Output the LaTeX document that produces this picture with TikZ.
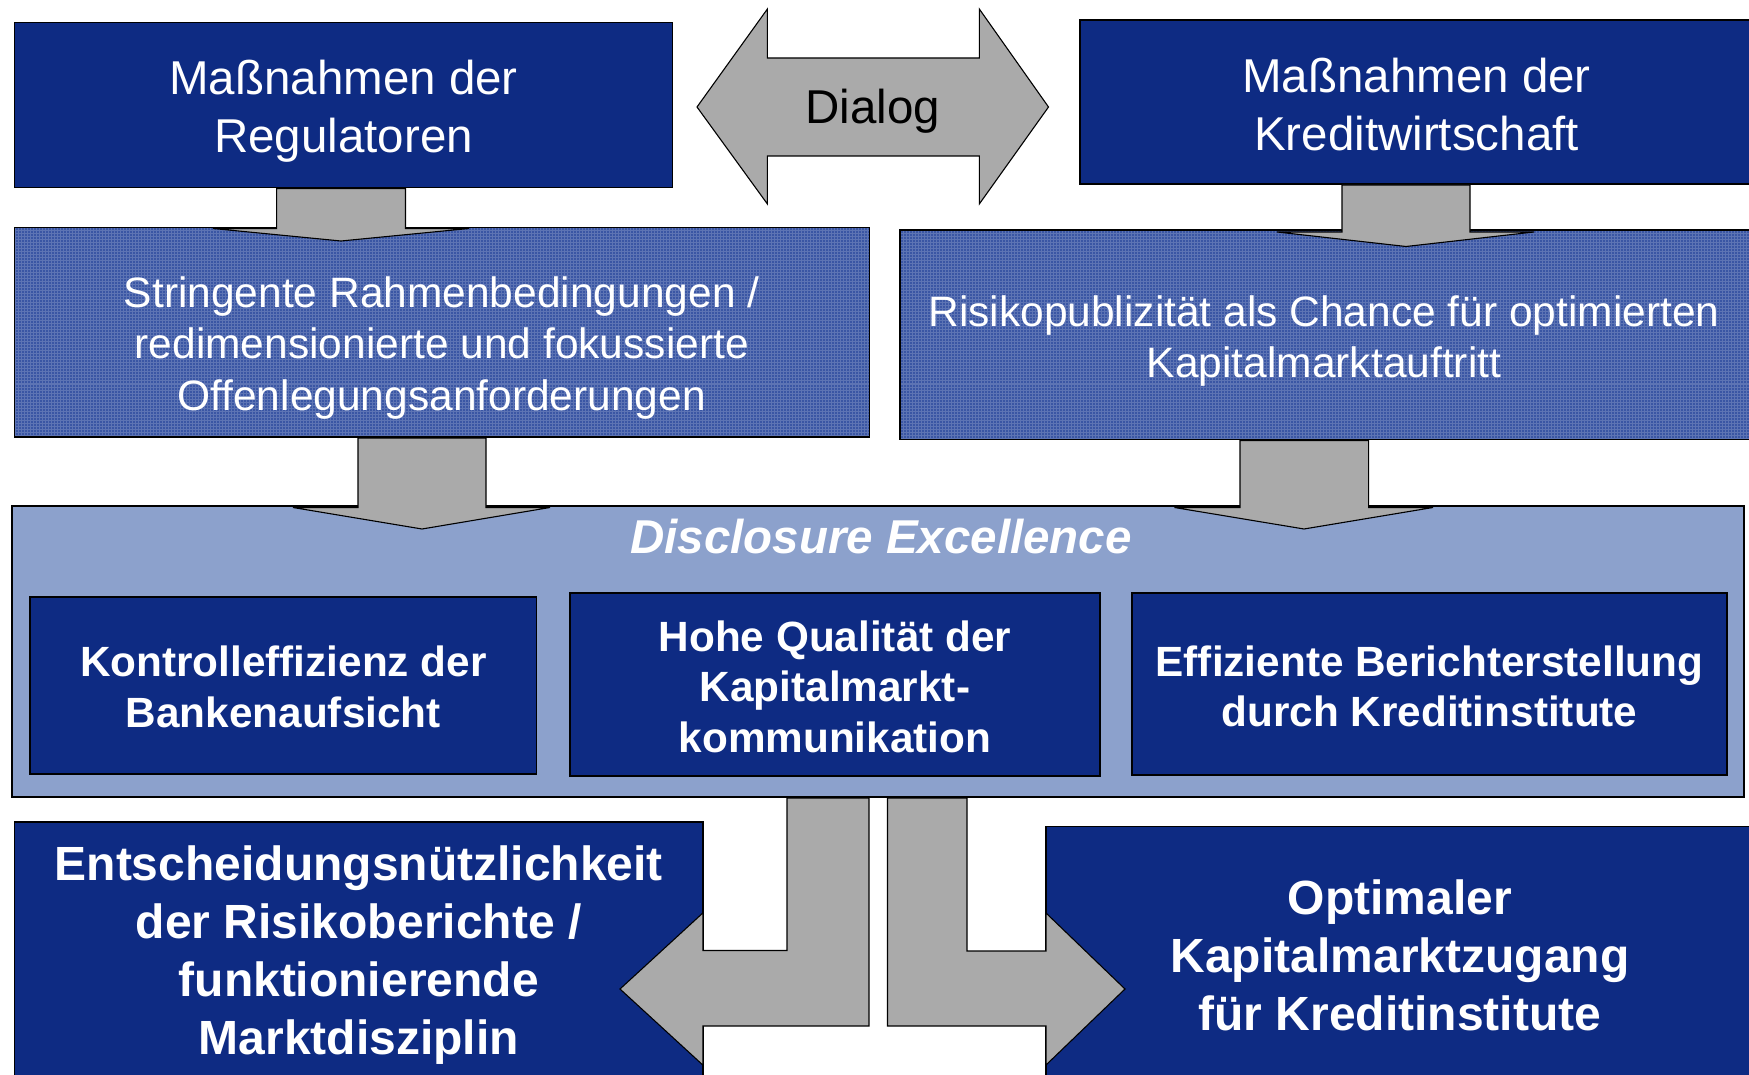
\documentclass[tikz,border=0pt]{standalone}
\usepackage{fontspec}
\setmainfont{Liberation Sans}
\definecolor{navy}{RGB}{14,43,131}
\definecolor{midblue}{RGB}{58,86,164}
\definecolor{paleblue}{RGB}{140,161,204}
\definecolor{arrowgray}{RGB}{170,170,170}
\tikzset{
  box/.style={draw=black, line width=1.3pt, fill=navy, inner sep=0pt, outer sep=0pt,
    anchor=north west},
  texbox/.style={box, fill=midblue},
  panel/.style={box, fill=paleblue},
  blockarrow/.style={draw=black, line width=1.1pt, fill=arrowgray, line join=miter},
  headfont/.style={font=\fontsize{47.5}{58}\selectfont},
  midfont/.style={font=\fontsize{42.5}{51.3}\selectfont},
  innerfont/.style={font=\fontsize{42.3}{50.5}\selectfont\bfseries},
  bigfont/.style={font=\fontsize{48}{58}\selectfont\bfseries},
  label/.style={text=white, align=center, inner sep=0pt},
  gridtex/.style={draw=white, opacity=0.18, line width=1pt}
}
\begin{document}
\begin{tikzpicture}[x=1pt,y=-1pt]
\useasboundingbox (0,0) rectangle (1749,1075);
\fill[white] (0,0) rectangle (1749,1075);

% top row
\node[box, minimum width=658pt, minimum height=165pt] (A) at (14.5,22.5) {};
\node[box, minimum width=673pt, minimum height=164pt] (B) at (1080,20) {};
\node[label, headfont] (At) at (343.5,111) {Maßnahmen der\\Regulatoren};
\node[label, headfont] (Bt) at (1416.5,105) {Maßnahmen der\\Kreditwirtschaft};

% dialog double arrow
\draw[blockarrow] (697,107) -- (767.4,9) -- (767.4,58) -- (979.3,58) -- (979.3,9)
  -- (1048.5,107) -- (979.3,204) -- (979.3,156) -- (767.4,156) -- (767.4,204) -- cycle;
\node[headfont, inner sep=0pt] (dialog) at (873,111.5) {Dialog};

% second row: textured boxes
\node[texbox, minimum width=855pt, minimum height=209.5pt] (C) at (14.5,227.5) {};
\node[texbox, minimum width=853pt, minimum height=209.5pt] (D) at (900,230) {};
\begin{scope}
  \clip (C.north west) rectangle (C.south east);
  \draw[gridtex] (C.north west) grid[step=3pt] (C.south east);
\end{scope}
\begin{scope}
  \clip (D.north west) rectangle (D.south east);
  \draw[gridtex] (D.north west) grid[step=3pt] (D.south east);
\end{scope}
\draw[line width=1.3pt] (C.north west) rectangle (C.south east);
\draw[line width=1.3pt] (D.north west) rectangle (D.south east);
\node[label, midfont] (Ct) at (441.7,348)
  {Stringente Rahmenbedingungen /\\redimensionierte und fokussierte\\Offenlegungsanforderungen};
\node[label, midfont] (Dt) at (1324,341)
  {Risikopublizität als Chance für optimierten\\Kapitalmarktauftritt};

% disclosure excellence panel
\node[panel, minimum width=1732pt, minimum height=291pt] (E) at (12,506) {};
\node[label, font=\fontsize{47.5}{58}\selectfont\bfseries\itshape] (Et) at (881,536.5)
  {Disclosure Excellence};
\node[box, minimum width=506.5pt, minimum height=177pt] (K) at (30,597) {};
\node[box, minimum width=530pt, minimum height=183pt] (H) at (570,593) {};
\node[box, minimum width=595pt, minimum height=182pt] (Q) at (1132,593) {};
\node[label, innerfont] (Kt) at (283.3,687) {Kontrolleffizienz der\\Bankenaufsicht};
\node[label, innerfont] (Ht) at (835,686.5) {Hohe Qualität der\\Kapitalmarkt-\\kommunikation};
\node[label, innerfont] (Qt) at (1429.5,686.5) {Effiziente Berichterstellung\\durch Kreditinstitute};

% bottom row
\node[box, minimum width=688.5pt, minimum height=258pt] (F) at (14.5,822) {};
\node[box, minimum width=707pt, minimum height=257pt] (G) at (1046,826.5) {};
\node[label, bigfont] (Ft) at (358.7,955.5)
  {Entscheidungsnützlichkeit\\der Risikoberichte /\\funktionierende\\Marktdisziplin};
\node[label, bigfont] (Gt) at (1400,955.5)
  {Optimaler\\Kapitalmarktzugang\\für Kreditinstitute};

% downward block arrows
\draw[blockarrow] (276.6,188.5) -- (276.6,228.5) -- (213,228.5) -- (341,241)
  -- (469,228.5) -- (405.5,228.5) -- (405.5,188.5) -- cycle;
\draw[blockarrow] (1342,185) -- (1342,232) -- (1277,232) -- (1406,246.5)
  -- (1534,232) -- (1470,232) -- (1470,185) -- cycle;
\draw[blockarrow] (358,438) -- (358,507.5) -- (293,507.5) -- (422,529)
  -- (550,507.5) -- (486,507.5) -- (486,438) -- cycle;
\draw[blockarrow] (1240,440.5) -- (1240,507.5) -- (1174.5,507.5) -- (1304,529)
  -- (1433,507.5) -- (1368.6,507.5) -- (1368.6,440.5) -- cycle;

% bent arrows to the bottom row
\draw[blockarrow] (869,798) -- (869,1026) -- (702.8,1026) -- (702.8,1065) -- (620,989)
  -- (702.8,913) -- (702.8,950.5) -- (787,950.5) -- (787,798) -- cycle;
\draw[blockarrow] (887.5,798) -- (887.5,1026) -- (1046,1026) -- (1046,1065) -- (1125,989)
  -- (1046,913) -- (1046,951) -- (967,951) -- (967,798) -- cycle;
\end{tikzpicture}
\end{document}
